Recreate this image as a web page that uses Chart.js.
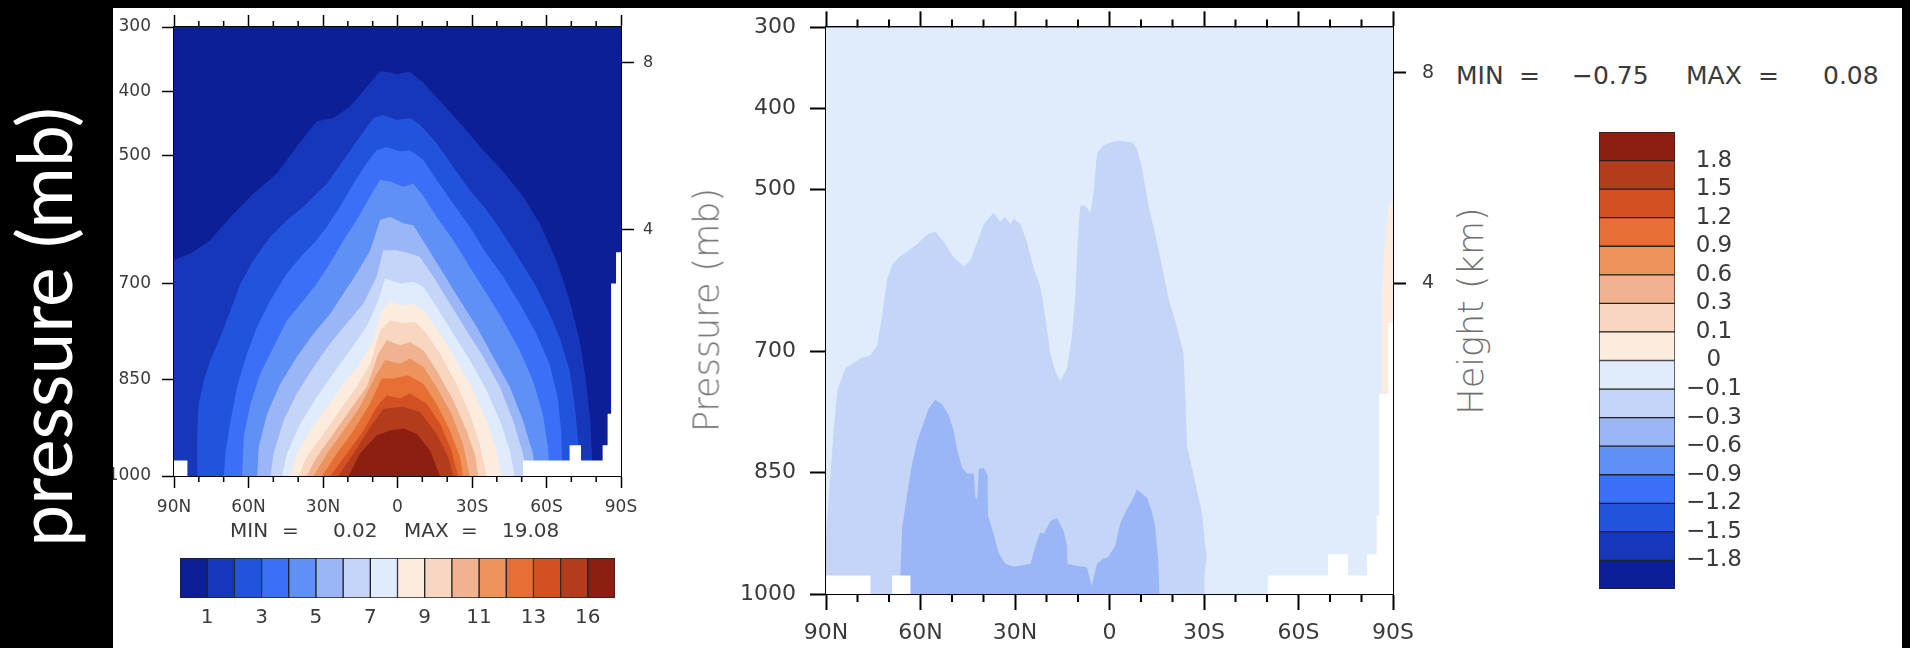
<!DOCTYPE html>
<html>
<head>
<meta charset="utf-8">
<script src="https://cdn.jsdelivr.net/npm/chart.js"></script>
<style>
  html, body { margin: 0; padding: 0; }
  body { width: 1910px; height: 648px; background: #000; position: relative; overflow: hidden; font-family: 'DejaVu Sans', sans-serif; }
  #panel { position: absolute; left: 113px; top: 8px; width: 1789px; height: 640px; background: #fff; }
  canvas { position: absolute; }
  .t { position: absolute; white-space: pre; color: #3a3a3a; line-height: 1; }
  .rot { position: absolute; white-space: nowrap; line-height: 1; transform: translate(-50%, -50%) rotate(-90deg); }
  .title { font-size: 35px; color: #707070; font-weight: 200; }
  .band { position: absolute; background: #000; }
</style>
</head>
<body>
<div id="panel"></div>
<canvas id="leftPlot" width="700" height="548" style="left:0;top:0"></canvas>
<canvas id="leftBar" width="460" height="100" style="left:170px;top:548px"></canvas>
<canvas id="rightPlot" width="720" height="648" style="left:720px;top:0"></canvas>
<canvas id="rightBar" width="200" height="480" style="left:1580px;top:120px"></canvas>

<!-- min / max notes -->
<div class="t" style="font-size:20px;top:520px;left:230px">MIN</div>
<div class="t" style="font-size:20px;top:520px;left:282px">=</div>
<div class="t" style="font-size:20px;top:520px;left:333px">0.02</div>
<div class="t" style="font-size:20px;top:520px;left:404px">MAX</div>
<div class="t" style="font-size:20px;top:520px;left:461px">=</div>
<div class="t" style="font-size:20px;top:520px;left:502px">19.08</div>

<div class="t" style="font-size:25px;top:63px;left:1456px">MIN</div>
<div class="t" style="font-size:25px;top:63px;left:1519px">=</div>
<div class="t" style="font-size:25px;top:63px;left:1572px">−0.75</div>
<div class="t" style="font-size:25px;top:63px;left:1686px">MAX</div>
<div class="t" style="font-size:25px;top:63px;left:1758px">=</div>
<div class="t" style="font-size:25px;top:63px;left:1823px">0.08</div>

<!-- axis titles -->
<div class="rot title" style="left:707px;top:310px">Pressure (mb)</div>
<div class="rot title" style="left:1471px;top:311px">Height (km)</div>

<!-- black frame round the figure -->
<div class="band" style="left:0;top:0;width:113px;height:648px"></div>
<div class="band" style="left:0;top:0;width:1910px;height:8px"></div>
<div class="band" style="left:1902px;top:0;width:8px;height:648px"></div>
<div class="rot" style="left:43px;top:327px;font-family:Lato;font-size:75px;color:#fff">pressure (mb)</div>

<script>
Chart.defaults.font.family = "'DejaVu Sans', sans-serif";
Chart.defaults.color = '#3a3a3a';

// colour table shared by both colour bars (low -> high)
const bandColors = ['#0c1f97', '#1637ba', '#2253dd', '#3b6ff7', '#5f90f5', '#9ab6f7', '#c4d5f8', '#e0ecfc',
                    '#fcecdd', '#f8d6c0', '#f1b38f', '#ed945e', '#e86f33', '#d35022', '#b23c1b', '#8c1e12'];

const latTicks = [90, 60, 30, 0, -30, -60, -90];
const latMinorTicks = [80, 70, 50, 40, 20, 10, -10, -20, -40, -50, -70, -80];
const pressureTicks = [300, 400, 500, 700, 850, 1000];
const heightTicksKm = [8, 4];

const leftBarLabels = ['1', '3', '5', '7', '9', '11', '13', '16'];
const leftBarLabelPos = [1, 3, 5, 7, 9, 11, 13, 15];
const rightBarLabels = ['−1.8', '−1.5', '−1.2', '−0.9', '−0.6', '−0.3', '−0.1', '0', '0.1', '0.3', '0.6', '0.9', '1.2', '1.5', '1.8'];

// left panel: contour lines as [lat, pressure], the area below each line is above that level
const leftC01 = [[90,663],[83.3,653],[75.3,632],[67.2,596],[57.9,559],[48.5,528],[40.5,486],[32.5,447],[25.8,442],[19.1,424],[11,387],[7,369],[3,371],[0.3,374],[-2.5,371],[-5,370],[-10.4,387],[-18.4,421],[-26.4,455],[-34.5,492],[-42.5,525],[-50.5,564],[-57.2,606],[-63.9,663],[-69.3,726],[-73.3,788],[-75.9,851],[-77.6,913],[-78.4,976],[-78.9,1000],[-90,1000]];
const leftC02 = [[80.6,1000],[80.9,939],[80,887],[78,851],[75.3,819],[71.3,783],[67.2,741],[63.2,700],[57.9,663],[51.2,627],[44.5,601],[37.8,580],[32.5,559],[28.4,544],[21.7,507],[15.1,471],[9.7,442],[5.7,437],[0.3,445],[-5,442],[-9,452],[-15.7,481],[-22.4,518],[-29.1,554],[-35.8,585],[-42.5,622],[-49.2,663],[-55.9,705],[-61.2,747],[-65.2,783],[-69.3,835],[-71.3,887],[-72.6,939],[-73.3,976],[-73.5,1000]];
const leftC03 = [[69.9,1000],[69.3,965],[67.2,913],[64.6,861],[60.6,809],[56.5,767],[51.2,726],[44.5,684],[37.8,653],[32.5,632],[28.4,611],[23.1,580],[17.7,544],[12.4,512],[8.4,492],[4.3,487],[-1,494],[-5,492],[-10.4,507],[-15.7,538],[-22.4,575],[-29.1,611],[-35.8,653],[-42.5,689],[-49.2,731],[-55.9,778],[-61.2,825],[-64.5,877],[-65.9,929],[-66.3,976],[-66.6,1000]];
const leftC04 = [[62.6,1000],[61.9,939],[59.2,887],[55.2,840],[49.9,799],[44.5,757],[37.8,726],[32.5,700],[27.1,668],[21.7,632],[16.4,601],[11,564],[7,538],[3,541],[-2.3,549],[-6.4,544],[-10.4,564],[-15.7,596],[-22.4,632],[-29.1,674],[-35.8,715],[-42.5,757],[-49.2,804],[-54.5,851],[-58.5,903],[-60.6,955],[-61.2,1000]];
const leftC05 = [[56.5,1000],[55.9,955],[52.5,903],[47.2,856],[40.5,814],[33.8,778],[27.1,747],[21.7,715],[16.4,684],[11,648],[7,601],[3,596],[-2.3,606],[-6.4,609],[-11.7,642],[-18.4,684],[-25.1,726],[-31.8,767],[-38.5,814],[-45.2,861],[-50.5,913],[-54.5,965],[-55.9,1000]];
const leftC06 = [[51.2,1000],[49.9,965],[45.8,913],[40.5,871],[33.8,830],[27.1,793],[20.4,762],[13.7,731],[8.4,689],[5.7,648],[0.3,648],[-5,653],[-9,658],[-14.4,689],[-21.1,731],[-27.8,773],[-34.5,814],[-41.2,861],[-46.5,913],[-50.5,965],[-51.9,1000]];
const leftC07 = [[46.5,1000],[44.5,965],[39.1,918],[32.5,877],[25.8,840],[19.1,804],[12.4,767],[7.7,726],[5,692],[-1,700],[-6.4,697],[-10.4,705],[-15.7,736],[-22.4,778],[-29.1,819],[-35.8,866],[-41.2,913],[-45.2,960],[-47.2,1000]];
const leftC08 = [[43.2,1000],[40.5,965],[35.1,929],[28.4,892],[21.7,856],[15.1,825],[9.7,788],[6.4,741],[3,728],[-2.3,734],[-6.4,731],[-11.7,747],[-17.1,778],[-23.7,819],[-30.4,866],[-35.8,913],[-39.8,960],[-41.8,1000]];
const leftC09 = [[39.8,1000],[36.5,970],[29.8,934],[23.1,897],[16.4,861],[11,825],[7,773],[3,757],[-2.3,762],[-7,760],[-11.7,778],[-17.1,809],[-23.7,856],[-29.1,903],[-33.1,950],[-35.8,1000]];
const leftC10 = [[36.5,1000],[32.5,970],[25.8,934],[19.1,897],[12.4,861],[7.7,809],[4.3,788],[-1,796],[-5,791],[-10.4,804],[-15.7,835],[-22.4,882],[-27.8,929],[-31.1,965],[-32.5,1000]];
const leftC11 = [[33.8,1000],[28.4,965],[21.7,929],[15.1,892],[9,845],[5,819],[-1,825],[-5,817],[-10.4,830],[-15.7,861],[-21.7,903],[-26.4,950],[-29.1,1000]];
const leftC12 = [[30.4,1000],[24.4,965],[17.7,929],[11,887],[6.4,848],[1.7,848],[-4.3,843],[-10.4,856],[-15.7,887],[-21.1,929],[-25.1,970],[-26.4,1000]];
const leftC13 = [[27.1,1000],[20.4,965],[13.7,929],[8.4,892],[4.3,874],[-1,879],[-5,871],[-11.7,887],[-17.1,918],[-21.7,960],[-24.4,1000]];
const leftC14 = [[23.8,1000],[17.7,965],[11,924],[5.7,895],[-2.3,892],[-9,900],[-15.7,934],[-20.4,970],[-22.4,1000]];
const leftC15 = [[19.7,1000],[15.1,965],[8.4,937],[3,929],[-2.3,926],[-7.7,934],[-13,960],[-17.1,1000]];
// missing data (below ground) in the left panel
const leftSurface = [[90,976],[84.6,976],[84.6,1000],[-50.5,1000],[-50.5,976],[-69.3,976],[-69.3,952],[-73.9,952],[-73.9,976],[-82.6,976],[-82.6,952],[-84.6,952],[-84.6,903],[-86,903],[-86,700],[-88,700],[-88,651],[-90,651]];

// right panel: -0.1 and -0.3 contours, a small positive patch, missing data
const rightC01 = [[90,926],[87.5,794],[86.4,748],[83.8,721],[81.7,716],[79.1,709],[75.9,705],[73.8,693],[72.2,657],[70.6,611],[69,593],[66.9,584],[64.2,577],[61.1,568],[57.9,556],[55.3,552],[52.6,565],[49.5,584],[46.3,595],[44.2,588],[42,565],[39.9,543],[36.8,529],[34.7,540],[33.1,534],[31.5,543],[30.4,536],[28.3,543],[26.2,565],[24.1,597],[22,620],[20.4,657],[18.8,703],[17.2,725],[15.6,737],[13.5,721],[11.9,680],[10.9,634],[10.1,565],[9.3,520],[7.7,520],[6.1,529],[5.1,506],[4,456],[2.4,447],[-0.2,442],[-2.9,440],[-7.1,442],[-8.7,449],[-10.3,474],[-12.4,520],[-15.6,575],[-18.7,634],[-21.4,670],[-23.5,703],[-24,748],[-24.6,817],[-27.2,862],[-29.3,899],[-30.4,940],[-30.9,954],[-30.1,977],[-30.1,1000],[-90,1000]];
const rightC02 = [[66.9,1000],[66.4,977],[65.8,917],[64.2,876],[62.7,840],[61.1,812],[59.5,794],[57.4,771],[55.3,760],[53.1,766],[51,780],[49.5,798],[48.4,821],[46.8,844],[45.2,851],[43.1,851],[42.6,881],[42,883],[41.5,846],[39.9,844],[38.7,853],[38.6,903],[36.8,926],[35.2,949],[33.1,963],[30.4,966],[25.1,963],[23.5,940],[22,924],[20.9,926],[18.8,910],[16.7,906],[14.6,922],[13.5,940],[13.3,963],[10.3,965],[7.2,967],[5.6,990],[4,963],[1.9,956],[0.3,954],[-1.8,940],[-3.4,913],[-5,899],[-7.1,885],[-8.7,871],[-11.9,881],[-13.5,899],[-14.5,917],[-15.4,954],[-15.9,1000]];
const rightPositive = [[-86.5,703],[-86.5,640],[-87.1,580],[-88.7,520],[-90,510]];
const rightSurface = [[90,977],[75.9,977],[75.9,1000],[69,1000],[69,977],[63.2,977],[63.2,1000],[-50.4,1000],[-50.4,977],[-69.4,977],[-69.4,951],[-75.7,951],[-75.7,977],[-81.8,977],[-81.8,951],[-84.8,951],[-84.8,903],[-85.6,903],[-85.6,753],[-88.5,753],[-88.5,665],[-90,665]];

function latLabel(v) {
    if (v > 0) return v + 'N';
    if (v < 0) return (-v) + 'S';
    return '0';
}

// standard atmosphere, km -> mb
function heightToPressure(km) {
    return 1013.25 * Math.pow(1 - 2.25577e-5 * km * 1000, 5.25588);
}

const areaBg = {
    id: 'areaBg',
    beforeDatasetsDraw(chart, args, opts) {
        const a = chart.chartArea;
        chart.ctx.save();
        chart.ctx.fillStyle = opts.color;
        chart.ctx.fillRect(a.left, a.top, a.width, a.height);
        chart.ctx.restore();
    }
};

// 10 degree ticks between the labelled ones, top and bottom
const minorTicks = {
    id: 'minorTicks',
    afterDraw(chart, args, opts) {
        const x = chart.scales.x;
        const a = chart.chartArea;
        const ctx = chart.ctx;
        ctx.save();
        ctx.strokeStyle = '#000';
        ctx.lineWidth = opts.width;
        latMinorTicks.forEach(v => {
            const px = x.getPixelForValue(v);
            ctx.beginPath();
            ctx.moveTo(px, a.bottom);
            ctx.lineTo(px, a.bottom + opts.len);
            ctx.moveTo(px, a.top);
            ctx.lineTo(px, a.top - opts.len);
            ctx.stroke();
        });
        ctx.restore();
    }
};

function area(points, color, order) {
    return {
        data: points.map(([x, y]) => ({ x: x, y: y })),
        backgroundColor: color,
        borderColor: 'rgba(0,0,0,0)',
        borderWidth: 0,
        pointRadius: 0,
        tension: 0,
        fill: { value: 1000 },
        order: order
    };
}

function makePlot(id, datasets, bg, s) {
    const tickGrid = len => ({ drawOnChartArea: false, tickLength: len, tickWidth: s.tickW, tickColor: '#000' });
    const frame = { color: '#000', width: s.frame };
    return new Chart(document.getElementById(id), {
        type: 'line',
        data: { datasets: datasets },
        options: {
            responsive: false,
            animation: false,
            devicePixelRatio: 1,
            layout: { padding: 0 },
            plugins: {
                legend: { display: false },
                tooltip: { enabled: false },
                areaBg: { color: bg },
                minorTicks: { len: s.minor, width: s.tickW }
            },
            scales: {
                x: {
                    type: 'linear', min: -90, max: 90, reverse: true, position: 'bottom',
                    afterBuildTicks: ax => { ax.ticks = latTicks.map(v => ({ value: v })); },
                    afterFit: ax => { ax.height = s.bottom; },
                    ticks: { callback: v => latLabel(v), font: { size: s.font }, padding: s.xPad, maxRotation: 0, autoSkip: false },
                    grid: tickGrid(s.major),
                    border: frame
                },
                xTop: {
                    axis: 'x', type: 'linear', min: -90, max: 90, reverse: true, position: 'top',
                    afterBuildTicks: ax => { ax.ticks = latTicks.map(v => ({ value: v })); },
                    afterFit: ax => { ax.height = s.top; },
                    ticks: { display: false },
                    grid: tickGrid(s.major),
                    border: frame
                },
                y: {
                    type: 'linear', min: 300, max: 1000, reverse: true, position: 'left',
                    afterBuildTicks: ax => { ax.ticks = pressureTicks.map(v => ({ value: v })); },
                    afterFit: ax => { ax.width = s.left; },
                    ticks: { callback: v => String(v), font: { size: s.font }, padding: s.yPad, autoSkip: false },
                    grid: tickGrid(s.yTick),
                    border: frame
                },
                y2: {
                    axis: 'y', type: 'linear', min: 300, max: 1000, reverse: true, position: 'right',
                    afterBuildTicks: ax => { ax.ticks = heightTicksKm.map(h => ({ value: heightToPressure(h) })); },
                    afterFit: ax => { ax.width = s.right; },
                    ticks: { callback: (v, i) => String(heightTicksKm[i]), font: { size: s.hFont }, padding: s.hPad, autoSkip: false },
                    grid: tickGrid(s.hTick),
                    border: frame
                }
            }
        },
        plugins: [areaBg, minorTicks]
    });
}

// left panel
const leftLevels = [leftC01, leftC02, leftC03, leftC04, leftC05, leftC06, leftC07, leftC08,
                    leftC09, leftC10, leftC11, leftC12, leftC13, leftC14, leftC15];
const leftSets = [area(leftSurface, '#ffffff', 0)];
leftLevels.forEach((c, i) => leftSets.push(area(c, bandColors[i + 1], 20 - i)));
makePlot('leftPlot', leftSets, bandColors[0], {
    left: 174, right: 79, top: 27, bottom: 72,
    font: 17, hFont: 16, major: 12, minor: 6, yTick: 12, hTick: 13,
    tickW: 1.5, frame: 2, xPad: 9, yPad: 11, hPad: 9
});

// right panel
const rightSets = [
    area(rightSurface, '#ffffff', 0),
    area(rightPositive, bandColors[8], 1),
    area(rightC02, bandColors[5], 2),
    area(rightC01, bandColors[6], 3)
];
rightSets[1].fill = { value: 753 };
makePlot('rightPlot', rightSets, bandColors[7], {
    left: 106, right: 47, top: 27, bottom: 54,
    font: 22, hFont: 19, major: 16, minor: 8, yTick: 16, hTick: 13,
    tickW: 2, frame: 2, xPad: 10, yPad: 14, hPad: 16
});

// colour bars: one stacked segment per colour
function barSets() {
    return bandColors.map(c => ({
        data: [1], backgroundColor: c, borderColor: '#222', borderWidth: 1,
        borderSkipped: false, barPercentage: 1, categoryPercentage: 1
    }));
}

new Chart(document.getElementById('leftBar'), {
    type: 'bar',
    data: { labels: [''], datasets: barSets() },
    options: {
        indexAxis: 'y', responsive: false, animation: false, devicePixelRatio: 1,
        layout: { padding: { left: 10, right: 15, top: 10, bottom: 0 } },
        plugins: { legend: { display: false }, tooltip: { enabled: false } },
        scales: {
            x: {
                stacked: true, min: 0, max: 16,
                afterBuildTicks: ax => { ax.ticks = leftBarLabelPos.map(v => ({ value: v })); },
                afterFit: ax => { ax.height = 50; ax.paddingLeft = 0; ax.paddingRight = 0; },
                ticks: { callback: (v, i) => leftBarLabels[i], font: { size: 20 }, padding: 8, maxRotation: 0, autoSkip: false },
                grid: { display: false, drawTicks: false },
                border: { display: false }
            },
            y: { stacked: true, display: false }
        }
    }
});

new Chart(document.getElementById('rightBar'), {
    type: 'bar',
    data: { labels: [''], datasets: barSets() },
    options: {
        responsive: false, animation: false, devicePixelRatio: 1,
        layout: { padding: { left: 19, right: 0, top: 12, bottom: 11 } },
        plugins: { legend: { display: false }, tooltip: { enabled: false } },
        scales: {
            x: { stacked: true, display: false },
            y: {
                stacked: true, min: 0, max: 16, position: 'right',
                afterBuildTicks: ax => { ax.ticks = rightBarLabels.map((l, i) => ({ value: i + 1 })); },
                afterFit: ax => { ax.width = 105; ax.paddingTop = 0; ax.paddingBottom = 0; },
                ticks: { callback: (v, i) => rightBarLabels[i], font: { size: 23 }, padding: 11, crossAlign: 'center', autoSkip: false },
                grid: { display: false, drawTicks: false },
                border: { display: false }
            }
        }
    }
});
</script>
</body>
</html>
